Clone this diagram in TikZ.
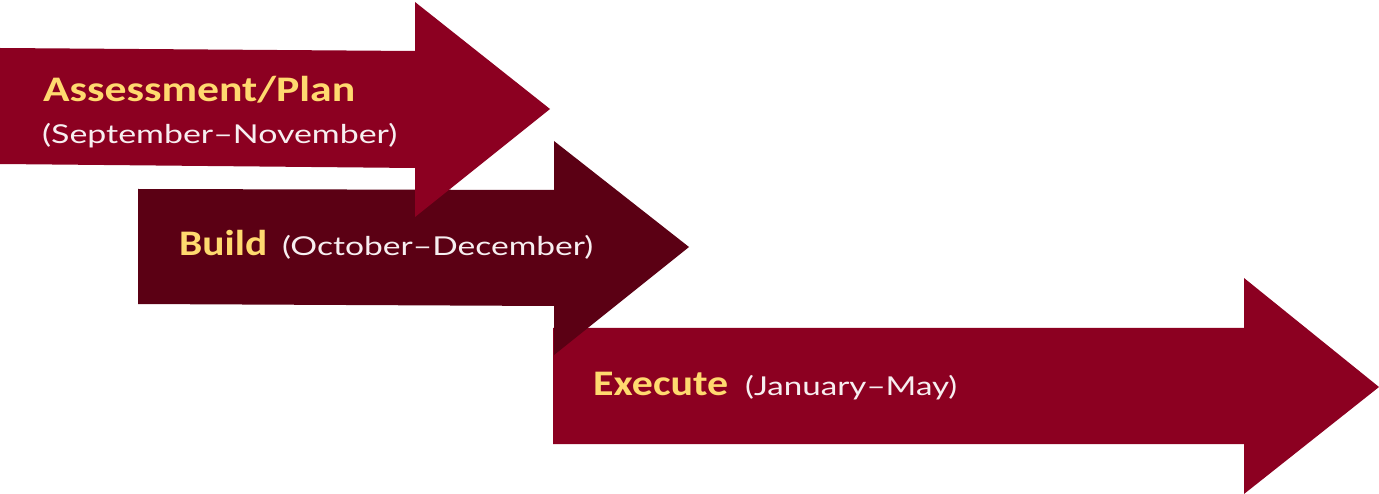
\documentclass[tikz,border=0pt]{standalone}
\usepackage{fontspec}
\setmainfont{Carlito}
\newfontfamily\parenfont{Lato}
\definecolor{crimson}{HTML}{8C0021}
\definecolor{darkcrimson}{HTML}{5B0014}
\definecolor{gold}{HTML}{FFD96F}
\definecolor{paletext}{HTML}{F7EEF0}
\tikzset{
  arrowA/.style={fill=crimson},
  arrowB/.style={fill=darkcrimson},
  phase/.style={anchor=base west, inner sep=0pt, text=gold, font=\fontsize{36}{40}\selectfont\bfseries},
  period/.style={anchor=base west, inner sep=0pt, text=paletext, font=\parenfont\fontsize{26}{30}\selectfont},
}
\begin{document}
\begin{tikzpicture}[x=1pt,y=-1pt]
\useasboundingbox (0,0) rectangle (1379,494);
% arrow 3 (bottom layer)
\fill[arrowA] (553,328) -- (1244,328) -- (1244,278) -- (1379,387) -- (1244,494) -- (1244,444) -- (553,444) -- cycle;
% arrow 2
\fill[arrowB] (138,189) -- (554,190) -- (554,141) -- (689,247) -- (554,355) -- (554,306) -- (138,304) -- cycle;
% arrow 1 (top layer)
\fill[arrowA] (0,48) -- (415,51) -- (415,2) -- (550,109) -- (415,217) -- (415,168) -- (0,164) -- cycle;
% texts
\node[phase] (plan) at (43,102) {\resizebox{312pt}{\height}{Assessment/Plan}};
\node[period] (planp) at (42,144) {\resizebox{355pt}{\height}{(September–November)}};
\node[phase] (build) at (179,256) {\resizebox{88pt}{\height}{Build}};
\node[period] (buildp) at (282,256) {\resizebox{311pt}{\height}{(October–December)}};
\node[phase] (exec) at (593,395) {\resizebox{135pt}{\height}{Execute}};
\node[period] (execp) at (745,395) {\resizebox{212pt}{\height}{(January–May)}};
\end{tikzpicture}
\end{document}
